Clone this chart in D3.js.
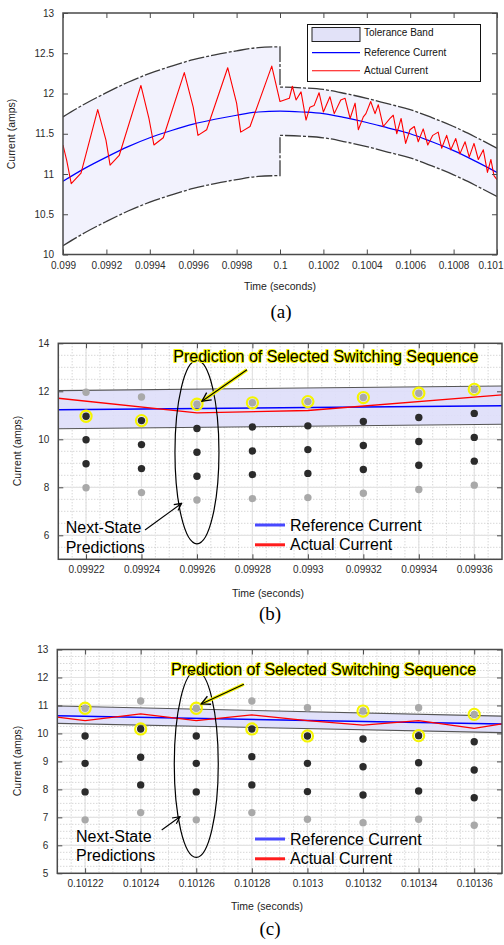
<!DOCTYPE html>
<html>
<head>
<meta charset="utf-8">
<script src="https://cdn.jsdelivr.net/npm/d3@7"></script>
<style>
  body { margin: 0; background: #fff; }
  svg { display: block; font-family: "Liberation Sans", Arial, sans-serif; }
</style>
</head>
<body>
<svg id="fig" width="504" height="945"></svg>
<script>
// ---------------- Panel (a): tolerance band tracking ----------------
const aTimeTicks = [0.099, 0.0992, 0.0994, 0.0996, 0.0998, 0.1, 0.1002, 0.1004, 0.1006, 0.1008, 0.101];
const aTimeTickLabels = ["0.099", "0.0992", "0.0994", "0.0996", "0.0998", "0.1", "0.1002", "0.1004", "0.1006", "0.1008", "0.101"];
const aCurrentTicks = [10, 10.5, 11, 11.5, 12, 12.5, 13];
const aCurrentTickLabels = ["10", "10.5", "11", "11.5", "12", "12.5", "13"];

const aRefTime = [0.099, 0.0991, 0.0992, 0.0993, 0.0994, 0.0995, 0.0996, 0.0997, 0.0998, 0.0999, 0.1,
                  0.1001, 0.1002, 0.1003, 0.1004, 0.1005, 0.1006, 0.1007, 0.1008, 0.1009, 0.101];
const aRefCurrent = [10.91, 11.07, 11.21, 11.34, 11.45, 11.54, 11.62, 11.68, 11.73, 11.77, 11.78,
                     11.77, 11.75, 11.70, 11.64, 11.57, 11.50, 11.40, 11.29, 11.16, 11.02];

// wide band before the step at t = 0.1 s, narrow band after it
const aWideTime = [0.099, 0.0991, 0.0992, 0.0993, 0.0994, 0.0995, 0.0996, 0.0997, 0.0998, 0.0999, 0.1];
const aWideUpper = [11.71, 11.87, 12.01, 12.14, 12.25, 12.34, 12.42, 12.48, 12.53, 12.57, 12.58];
const aWideLower = [10.11, 10.27, 10.41, 10.54, 10.65, 10.74, 10.82, 10.88, 10.93, 10.97, 10.98];
const aNarrowTime = [0.1, 0.1001, 0.1002, 0.1003, 0.1004, 0.1005, 0.1006, 0.1007, 0.1008, 0.1009, 0.101];
const aNarrowUpper = [12.08, 12.07, 12.05, 12.00, 11.94, 11.87, 11.80, 11.70, 11.59, 11.46, 11.32];
const aNarrowLower = [11.48, 11.47, 11.45, 11.40, 11.34, 11.27, 11.20, 11.10, 10.99, 10.86, 10.72];

const aActualTime = [
  0.099000, 0.099017, 0.099038, 0.099083, 0.099160, 0.099198, 0.099217, 0.099259, 0.099359, 0.099396,
  0.099419, 0.099462, 0.099559, 0.099600, 0.099622, 0.099662, 0.099759, 0.099800, 0.099819, 0.099862,
  0.099962, 0.100000, 0.100043, 0.100057, 0.100074, 0.100097, 0.100120, 0.100138, 0.100157, 0.100180,
  0.100200, 0.100230, 0.100250, 0.100280, 0.100300, 0.100323, 0.100346, 0.100361, 0.100384, 0.100396,
  0.100418, 0.100438, 0.100453, 0.100476, 0.100507, 0.100522, 0.100538, 0.100558, 0.100579, 0.100599,
  0.100619, 0.100637, 0.100660, 0.100681, 0.100704, 0.100729, 0.100745, 0.100768, 0.100787, 0.100810,
  0.100829, 0.100853, 0.100872, 0.100894, 0.100914, 0.100937, 0.100956, 0.100972, 0.100986, 0.101000];
const aActualCurrent = [
  11.36, 11.17, 10.88, 11.01, 11.80, 11.42, 11.11, 11.23, 12.10, 11.69,
  11.36, 11.45, 12.26, 11.83, 11.48, 11.55, 12.32, 11.88, 11.52, 11.59,
  12.34, 11.90, 11.94, 12.09, 11.92, 12.02, 11.67, 11.83, 11.85, 12.01,
  11.77, 11.96, 11.75, 11.92, 11.94, 11.69, 11.88, 11.55, 11.71, 11.75,
  11.90, 11.75, 11.86, 11.59, 11.69, 11.73, 11.50, 11.69, 11.38, 11.55,
  11.59, 11.40, 11.56, 11.36, 11.48, 11.52, 11.32, 11.48, 11.30, 11.44,
  11.25, 11.40, 11.21, 11.38, 11.18, 11.30, 11.02, 11.18, 10.98, 10.93];

const aLegendLabels = ["Tolerance Band", "Reference Current", "Actual Current"];

// ---------------- Panel (b) ----------------
const bTimeTicks = [0.09922, 0.09924, 0.09926, 0.09928, 0.0993, 0.09932, 0.09934, 0.09936];
const bTimeTickLabels = ["0.09922", "0.09924", "0.09926", "0.09928", "0.0993", "0.09932", "0.09934", "0.09936"];
const bCurrentTicks = [6, 8, 10, 12, 14];
const bCurrentTickLabels = ["6", "8", "10", "12", "14"];
// five predicted next-state currents at each sampling instant (top to bottom)
const bPredictions = [
  [11.96, 10.96, 9.98, 8.98, 7.98],
  [11.76, 10.78, 9.78, 8.78, 7.78],
  [11.46, 10.45, 9.46, 8.46, 7.47],
  [11.52, 10.51, 9.51, 8.53, 7.53],
  [11.57, 10.56, 9.57, 8.58, 7.57],
  [11.74, 10.74, 9.74, 8.74, 7.75],
  [11.92, 10.91, 9.91, 8.92, 7.91],
  [12.08, 11.08, 10.08, 9.09, 8.09]];
const bSelected = [1, 1, 0, 0, 0, 0, 0, 0];
const bEdgeTime = [0.09921, 0.09937];
const bBandUpper = [12.03, 12.22];
const bBandLower = [10.44, 10.63];
const bRefCurrent = [11.23, 11.40];
const bActualTime = [0.09921, 0.09926, 0.0993, 0.09937];
const bActualCurrent = [11.71, 11.10, 11.20, 11.85];

// ---------------- Panel (c) ----------------
const cTimeTicks = [0.10122, 0.10124, 0.10126, 0.10128, 0.1013, 0.10132, 0.10134, 0.10136];
const cTimeTickLabels = ["0.10122", "0.10124", "0.10126", "0.10128", "0.1013", "0.10132", "0.10134", "0.10136"];
const cCurrentTicks = [5, 6, 7, 8, 9, 10, 11, 12, 13];
const cCurrentTickLabels = ["5", "6", "7", "8", "9", "10", "11", "12", "13"];
const cPredictions = [
  [10.90, 9.91, 8.93, 7.91, 6.91],
  [11.16, 10.16, 9.15, 8.16, 7.17],
  [10.90, 9.91, 8.93, 7.91, 6.91],
  [11.16, 10.16, 9.17, 8.16, 7.17],
  [10.92, 9.91, 8.93, 7.92, 6.93],
  [10.80, 9.80, 8.81, 7.80, 6.81],
  [10.92, 9.92, 8.95, 7.94, 6.93],
  [10.68, 9.70, 8.69, 7.70, 6.72]];
const cSelected = [0, 1, 0, 1, 1, 0, 1, 0];
const cEdgeTime = [0.10121, 0.10137];
const cBandUpper = [10.98, 10.62];
const cBandLower = [10.36, 10.03];
const cRefCurrent = [10.63, 10.34];
const cActualTime = [0.10121, 0.10122, 0.10124, 0.10126, 0.10128, 0.1013, 0.10132, 0.10134, 0.10136, 0.10137];
const cActualCurrent = [10.58, 10.46, 10.70, 10.46, 10.66, 10.46, 10.30, 10.46, 10.18, 10.34];

const predLegendLabels = ["Reference Current", "Actual Current"];
const predictionTitle = "Prediction of Selected Switching Sequence";
const nextStateLines = ["Next-State", "Predictions"];
const timeLabel = "Time (seconds)";
const currentLabel = "Current (amps)";

// ====================================================================
const svg = d3.select("#fig");
const AXIS_COLOR = "#4a4a4a";
const TICK_TEXT = "#2b2b2b";

svg.append("defs").html(`
  <marker id="openHead" viewBox="0 0 10 10" refX="9" refY="5" markerWidth="9" markerHeight="9"
          markerUnits="userSpaceOnUse" orient="auto">
    <path d="M1,1 L9,5 L1,9" fill="none" stroke="#000" stroke-width="1.3"/>
  </marker>
  <marker id="openHeadY" viewBox="0 0 10 10" refX="9" refY="5" markerWidth="11" markerHeight="11"
          markerUnits="userSpaceOnUse" orient="auto">
    <path d="M1,1 L9,5 L1,9" fill="none" stroke="#000" stroke-width="1.2"/>
  </marker>`);

// frame with inward ticks on all four sides
function drawFrame(g, box, x, y, xt, xtl, yt, ytl, tickLen, fontSize) {
  const xFmt = (d) => xtl[xt.indexOf(d)];
  const yFmt = (d) => ytl[yt.indexOf(d)];
  const styleAxis = (sel) => {
    sel.select(".domain").remove();
    sel.selectAll(".tick line").attr("stroke", AXIS_COLOR).attr("stroke-width", 1);
    sel.selectAll(".tick text").attr("fill", TICK_TEXT).style("font-size", fontSize + "px")
      .style("font-family", '"Liberation Sans", Arial, sans-serif');
  };
  const bottom = g.append("g").attr("transform", `translate(0,${box.bottom})`)
    .call(d3.axisBottom(x).tickValues(xt).tickFormat(xFmt).tickSize(-tickLen).tickPadding(7)).call(styleAxis);
  // keep the last label inside the page edge
  bottom.selectAll(".tick text").filter((d) => x(d) + 14 > 504).attr("text-anchor", "end").attr("x", (d) => 503 - x(d));
  g.append("g").attr("transform", `translate(0,${box.top})`)
    .call(d3.axisTop(x).tickValues(xt).tickFormat("").tickSize(-tickLen)).call(styleAxis);
  g.append("g").attr("transform", `translate(${box.left},0)`)
    .call(d3.axisLeft(y).tickValues(yt).tickFormat(yFmt).tickSize(-tickLen).tickPadding(9)).call(styleAxis);
  g.append("g").attr("transform", `translate(${box.right},0)`)
    .call(d3.axisRight(y).tickValues(yt).tickFormat("").tickSize(-tickLen)).call(styleAxis);
  g.append("rect").attr("x", box.left).attr("y", box.top)
    .attr("width", box.right - box.left).attr("height", box.bottom - box.top)
    .attr("fill", "none").attr("stroke", AXIS_COLOR).attr("stroke-width", 1.5);
}

function axisTitles(g, xTitle, yTitle, caption) {
  g.append("text").attr("x", xTitle[0]).attr("y", xTitle[1]).attr("text-anchor", "middle")
    .attr("fill", "#222").style("font-size", "10.5px").text(timeLabel);
  g.append("text").attr("transform", `translate(${yTitle[0]},${yTitle[1]}) rotate(-90)`)
    .attr("text-anchor", "middle").attr("fill", "#222").style("font-size", "10.5px").text(currentLabel);
  g.append("text").attr("x", caption[0]).attr("y", caption[1]).attr("text-anchor", "middle")
    .style("font-family", '"Liberation Serif", "Times New Roman", serif').style("font-size", "19px")
    .attr("fill", "#000").text(caption[2]);
}

// ---------------- draw panel (a) ----------------
(function () {
  const box = { left: 63, right: 497, top: 13, bottom: 254.5 };
  const x = d3.scaleLinear().domain([0.099, 0.101]).range([box.left, box.right]);
  const y = d3.scaleLinear().domain([10, 13]).range([box.bottom, box.top]);
  const g = svg.append("g");
  g.append("clipPath").attr("id", "clipA").append("rect")
    .attr("x", box.left).attr("y", box.top).attr("width", box.right - box.left).attr("height", box.bottom - box.top);
  const plot = g.append("g").attr("clip-path", "url(#clipA)");

  const area = d3.area().curve(d3.curveMonotoneX)
    .x((d) => x(d[0])).y0((d) => y(d[1])).y1((d) => y(d[2]));
  const wide = aWideTime.map((t, i) => [t, aWideLower[i], aWideUpper[i]]);
  const narrow = aNarrowTime.map((t, i) => [t, aNarrowLower[i], aNarrowUpper[i]]);
  plot.append("path").attr("d", area(wide)).attr("fill", "#f2f2fd");
  plot.append("path").attr("d", area(narrow)).attr("fill", "#f2f2fd");

  const line = d3.line().curve(d3.curveMonotoneX).x((d) => x(d[0])).y((d) => y(d[1]));
  const joined = (tA, vA, tB, vB) =>
    line(tA.map((t, i) => [t, vA[i]])) + line(tB.map((t, i) => [t, vB[i]])).replace(/^M/, "L");
  const bandStyle = (p) => p.attr("fill", "none").attr("stroke", "#3a3a3a").attr("stroke-width", 1.3)
    .attr("stroke-dasharray", "16,2,3,2");
  plot.append("path").attr("d", joined(aWideTime, aWideUpper, aNarrowTime, aNarrowUpper)).call(bandStyle);
  plot.append("path").attr("d", joined(aWideTime, aWideLower, aNarrowTime, aNarrowLower)).call(bandStyle);

  plot.append("path").attr("d", line(aRefTime.map((t, i) => [t, aRefCurrent[i]])))
    .attr("fill", "none").attr("stroke", "#0000ff").attr("stroke-width", 1.2);
  const linLine = d3.line().x((d) => x(d[0])).y((d) => y(d[1]));
  plot.append("path").attr("d", linLine(aActualTime.map((t, i) => [t, aActualCurrent[i]])))
    .attr("fill", "none").attr("stroke", "#ff0000").attr("stroke-width", 1.1).attr("stroke-linejoin", "round");

  drawFrame(g, box, x, y, aTimeTicks, aTimeTickLabels, aCurrentTicks, aCurrentTickLabels, 5, 10);

  // legend
  const lg = g.append("g");
  lg.append("rect").attr("x", 307.5).attr("y", 24.5).attr("width", 173).attr("height", 57)
    .attr("fill", "#fff").attr("stroke", "#111").attr("stroke-width", 1);
  lg.append("rect").attr("x", 312).attr("y", 27.5).attr("width", 48).attr("height", 14)
    .attr("fill", "#e2e2f8").attr("stroke", "#222").attr("stroke-width", 1);
  lg.append("line").attr("x1", 312).attr("x2", 360).attr("y1", 52.7).attr("y2", 52.7)
    .attr("stroke", "#0000ff").attr("stroke-width", 1.2);
  lg.append("line").attr("x1", 312).attr("x2", 360).attr("y1", 70.7).attr("y2", 70.7)
    .attr("stroke", "#ff0000").attr("stroke-width", 1.1);
  [36, 56, 74].forEach((yy, i) => {
    lg.append("text").attr("x", 364).attr("y", yy).attr("fill", "#111").style("font-size", "10px")
      .text(aLegendLabels[i]);
  });

  axisTitles(g, [280, 290], [15, 134], [281, 318, "(a)"]);
})();

// ---------------- prediction panels (b) and (c) ----------------
function drawPredictionPanel(cfg) {
  const box = cfg.box;
  const x = d3.scaleLinear().domain(cfg.xDomain).range([box.left, box.right]);
  const y = d3.scaleLinear().domain(cfg.yDomain).range([box.bottom, box.top]);
  const g = svg.append("g");
  g.append("clipPath").attr("id", cfg.id).append("rect")
    .attr("x", box.left).attr("y", box.top).attr("width", box.right - box.left).attr("height", box.bottom - box.top);
  const plot = g.append("g").attr("clip-path", `url(#${cfg.id})`);

  // minor dotted grid
  const xMinor = d3.range(Math.ceil(cfg.xDomain[0] / cfg.xMinorStep - 1e-6), cfg.xDomain[1] / cfg.xMinorStep + 1e-6)
    .map((k) => k * cfg.xMinorStep);
  const yMinor = d3.range(cfg.yDomain[0], cfg.yDomain[1] + 1e-9, cfg.yMinorStep);
  plot.selectAll(null).data(xMinor).join("line")
    .attr("x1", (d) => x(d)).attr("x2", (d) => x(d)).attr("y1", box.top).attr("y2", box.bottom)
    .attr("stroke", "#b8b8b8").attr("stroke-width", 0.8).attr("stroke-dasharray", "1,2");
  plot.selectAll(null).data(yMinor).join("line")
    .attr("y1", (d) => y(d)).attr("y2", (d) => y(d)).attr("x1", box.left).attr("x2", box.right)
    .attr("stroke", "#b8b8b8").attr("stroke-width", 0.8).attr("stroke-dasharray", "1,2");
  // major grid
  plot.selectAll(null).data(cfg.xTicks).join("line")
    .attr("x1", (d) => x(d)).attr("x2", (d) => x(d)).attr("y1", box.top).attr("y2", box.bottom)
    .attr("stroke", "#e3e3e3").attr("stroke-width", 1.2);
  plot.selectAll(null).data(cfg.yGrid).join("line")
    .attr("y1", (d) => y(d)).attr("y2", (d) => y(d)).attr("x1", box.left).attr("x2", box.right)
    .attr("stroke", "#e3e3e3").attr("stroke-width", 1.2);

  // tolerance band
  const band = cfg.edgeTime.map((t, i) => [t, cfg.lower[i], cfg.upper[i]]);
  plot.append("path").attr("d", d3.area().x((d) => x(d[0])).y0((d) => y(d[1])).y1((d) => y(d[2]))(band))
    .attr("fill", "#dedef9").attr("fill-opacity", 0.9);
  const line = d3.line().x((d) => x(d[0])).y((d) => y(d[1]));
  [cfg.upper, cfg.lower].forEach((edge) => {
    plot.append("path").attr("d", line(cfg.edgeTime.map((t, i) => [t, edge[i]])))
      .attr("fill", "none").attr("stroke", "#555").attr("stroke-width", 1.1);
  });
  plot.append("path").attr("d", line(cfg.edgeTime.map((t, i) => [t, cfg.ref[i]])))
    .attr("fill", "none").attr("stroke", "#0000ff").attr("stroke-width", 1.5);
  plot.append("path").attr("d", line(cfg.actualTime.map((t, i) => [t, cfg.actual[i]])))
    .attr("fill", "none").attr("stroke", "#ff0000").attr("stroke-width", 1.3);

  // predicted states
  const dots = [];
  cfg.times.forEach((t, i) => cfg.preds[i].forEach((v, j) => dots.push({ t, v, j, sel: cfg.selected[i] === j })));
  plot.selectAll(null).data(dots).join("circle")
    .attr("cx", (d) => x(d.t)).attr("cy", (d) => y(d.v)).attr("r", 3.7)
    .attr("fill", (d) => (d.j === 0 || d.j === 4 ? "#a9a9a9" : "#2b2b2b"));
  plot.selectAll(null).data(dots.filter((d) => d.sel)).join("circle")
    .attr("cx", (d) => x(d.t)).attr("cy", (d) => y(d.v)).attr("r", 5.6)
    .attr("fill", "none").attr("stroke", "#f5f500").attr("stroke-width", 2.1);

  // ellipse around the predictions at the highlighted instant
  const hi = cfg.times[2];
  const mid = (cfg.preds[2][0] + cfg.preds[2][4]) / 2;
  g.append("ellipse").attr("cx", x(hi)).attr("cy", y(mid)).attr("rx", 22).attr("ry", cfg.ellipseRy)
    .attr("fill", "none").attr("stroke", "#000").attr("stroke-width", 1.2);

  // selected-sequence annotation
  const tip = [x(hi) + cfg.tipOffset[0], y(cfg.preds[2][cfg.selected[2]]) + cfg.tipOffset[1]];
  const tail = [tip[0] + cfg.tailOffset[0], tip[1] + cfg.tailOffset[1]];
  g.append("line").attr("x1", tail[0]).attr("y1", tail[1]).attr("x2", tip[0]).attr("y2", tip[1])
    .attr("stroke", "#f5f500").attr("stroke-width", 3.4);
  g.append("line").attr("x1", tail[0]).attr("y1", tail[1]).attr("x2", tip[0]).attr("y2", tip[1])
    .attr("stroke", "#000").attr("stroke-width", 1.1).attr("marker-end", "url(#openHeadY)");
  g.append("text").attr("x", cfg.titlePos[0]).attr("y", cfg.titlePos[1])
    .attr("fill", "#000").attr("stroke", "#f5f500").attr("stroke-width", 1.8).attr("paint-order", "stroke")
    .attr("stroke-linejoin", "round").style("font-size", "16px").text(predictionTitle);

  // next-state annotation
  g.append("line").attr("x1", cfg.nsArrow[0]).attr("y1", cfg.nsArrow[1])
    .attr("x2", cfg.nsArrow[2]).attr("y2", cfg.nsArrow[3])
    .attr("stroke", "#000").attr("stroke-width", 1.1).attr("marker-end", "url(#openHead)");
  nextStateLines.forEach((s, i) => {
    g.append("text").attr("x", cfg.nsText[0]).attr("y", cfg.nsText[1] + i * 19.3)
      .attr("fill", "#000").style("font-size", "16px").text(s);
  });

  // legend
  [["#4848ff", 0], ["#ff1c1c", 1]].forEach(([col, i]) => {
    const yy = cfg.legendY + i * 19.8;
    g.append("line").attr("x1", 255).attr("x2", 285).attr("y1", yy).attr("y2", yy)
      .attr("stroke", col).attr("stroke-width", 3);
    g.append("text").attr("x", 290).attr("y", yy + 5.5).attr("fill", "#000").style("font-size", "16px")
      .text(predLegendLabels[i]);
  });

  drawFrame(g, box, x, y, cfg.xTicks, cfg.xTickLabels, cfg.yTicks, cfg.yTickLabels, 5, 10);
  axisTitles(g, cfg.xTitle, cfg.yTitle, cfg.caption);
}

drawPredictionPanel({
  id: "clipB",
  box: { left: 58.3, right: 502, top: 343.3, bottom: 559.3 },
  xDomain: [0.09921, 0.09937], yDomain: [5, 14],
  xTicks: bTimeTicks, xTickLabels: bTimeTickLabels,
  yTicks: bCurrentTicks, yTickLabels: bCurrentTickLabels, yGrid: bCurrentTicks,
  xMinorStep: 0.000005, yMinorStep: 0.5,
  times: bTimeTicks, preds: bPredictions, selected: bSelected,
  edgeTime: bEdgeTime, upper: bBandUpper, lower: bBandLower, ref: bRefCurrent,
  actualTime: bActualTime, actual: bActualCurrent,
  ellipseRy: 91.7,
  tipOffset: [5, -3], tailOffset: [45, -31.5],
  titlePos: [173.3, 361.5],
  nsArrow: [145, 530, 181.7, 503.3], nsText: [65.7, 533.3],
  legendY: 525,
  xTitle: [268, 597], yTitle: [21, 451], caption: [270, 620, "(b)"]
});

drawPredictionPanel({
  id: "clipC",
  box: { left: 57.3, right: 502, top: 649.5, bottom: 873.3 },
  xDomain: [0.10121, 0.10137], yDomain: [5, 13],
  xTicks: cTimeTicks, xTickLabels: cTimeTickLabels,
  yTicks: cCurrentTicks, yTickLabels: cCurrentTickLabels, yGrid: cCurrentTicks,
  xMinorStep: 0.000005, yMinorStep: 0.25,
  times: cTimeTicks, preds: cPredictions, selected: cSelected,
  edgeTime: cEdgeTime, upper: cBandUpper, lower: cBandLower, ref: cRefCurrent,
  actualTime: cActualTime, actual: cActualCurrent,
  ellipseRy: 93.3,
  tipOffset: [5, -4.3], tailOffset: [42.6, -19.7],
  titlePos: [171, 675.3],
  nsArrow: [161.7, 830, 180, 816.7], nsText: [76, 842],
  legendY: 839,
  xTitle: [267, 910], yTitle: [21, 761], caption: [270, 935, "(c)"]
});
</script>
</body>
</html>
